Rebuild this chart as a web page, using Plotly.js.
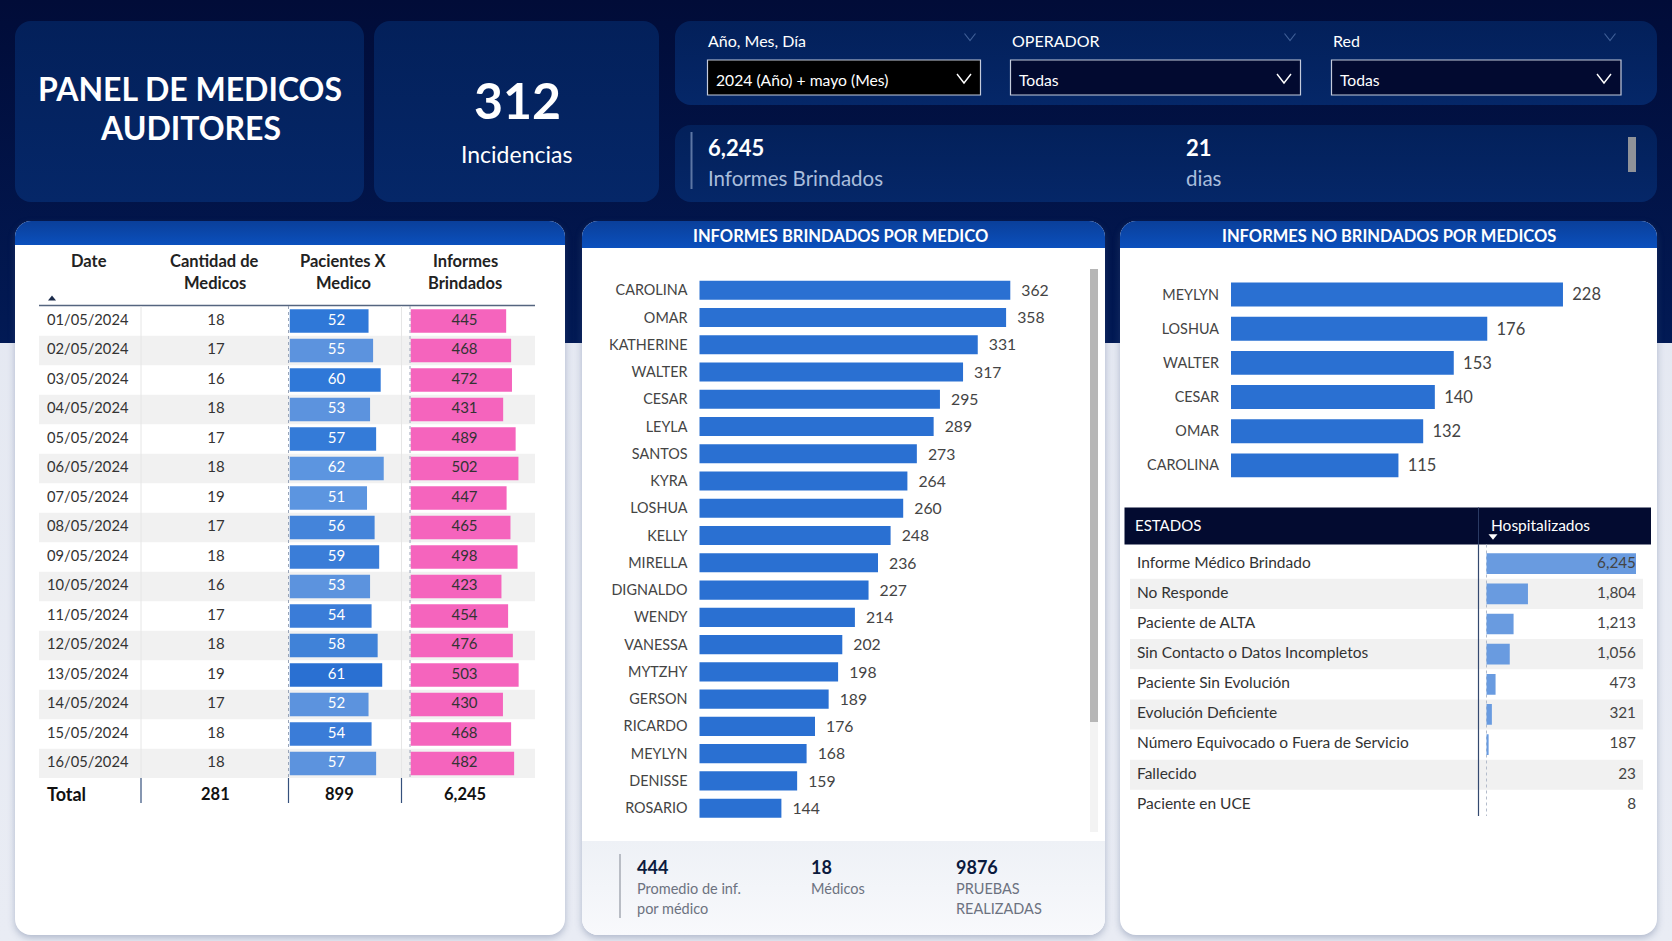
<!DOCTYPE html>
<html><head><meta charset="utf-8">
<script src="https://cdn.plot.ly/plotly-3.0.1.min.js"></script>
<style>
html,body{margin:0;padding:0;width:1672px;height:941px;overflow:hidden;font-family:Lato,sans-serif}
#bg{position:absolute;left:0;top:0;width:1672px;height:941px;background:linear-gradient(#e3e7f1,#e9ecf4);}
#top{position:absolute;left:0;top:0;width:1672px;height:343px;background:linear-gradient(#010c38 0%,#021a55 100%);}
.p{position:absolute;border-radius:16px;background:linear-gradient(#03205a,#052768);}
.c{position:absolute;border-radius:16px;background:#fff;box-shadow:0 3px 7px rgba(70,90,130,.35);overflow:hidden}
.h{position:absolute;left:0;top:0;width:100%;background:linear-gradient(#0a3f9a,#0b50bd);}
.f{position:absolute;left:0;width:100%;background:linear-gradient(#eef1f6,#f8f9fc);}
#chart{position:absolute;left:0;top:0;width:1672px;height:941px}
</style></head>
<body>
<div id="bg"></div><div id="top"></div>
<div class="p" style="left:15px;top:21px;width:349px;height:181px"></div>
<div class="p" style="left:374px;top:21px;width:285px;height:181px"></div>
<div class="p" style="left:675px;top:21px;width:982px;height:84px"></div>
<div class="p" style="left:675px;top:125px;width:982px;height:77px"></div>
<div class="c" style="left:15px;top:221px;width:550px;height:714px"><div class="h" style="height:24px"></div></div>
<div class="c" style="left:582px;top:221px;width:523px;height:714px"><div class="h" style="height:27px"></div><div class="f" style="top:620px;height:94px"></div></div>
<div class="c" style="left:1120px;top:221px;width:537px;height:714px"><div class="h" style="height:27px"></div></div>
<div id="chart"></div>
<script>
// ---------- data ----------
const dates = ["01/05/2024","02/05/2024","03/05/2024","04/05/2024","05/05/2024","06/05/2024","07/05/2024","08/05/2024","09/05/2024","10/05/2024","11/05/2024","12/05/2024","13/05/2024","14/05/2024","15/05/2024","16/05/2024"];
const cantidad = [18,17,16,18,17,18,19,17,18,16,17,18,19,17,18,18];
const pacientes = [52,55,60,53,57,62,51,56,59,53,54,58,61,52,54,57];
const informes = [445,468,472,431,489,502,447,465,498,423,454,476,503,430,468,482];
const totals = ["Total","281","899","6,245"];
const medicos = ["CAROLINA","OMAR","KATHERINE","WALTER","CESAR","LEYLA","SANTOS","KYRA","LOSHUA","KELLY","MIRELLA","DIGNALDO","WENDY","VANESSA","MYTZHY","GERSON","RICARDO","MEYLYN","DENISSE","ROSARIO"];
const brindados = [362,358,331,317,295,289,273,264,260,248,236,227,214,202,198,189,176,168,159,144];
const medicosNo = ["MEYLYN","LOSHUA","WALTER","CESAR","OMAR","CAROLINA"];
const noBrindados = [228,176,153,140,132,115];
const estados = ["Informe Médico Brindado","No Responde","Paciente de ALTA","Sin Contacto o Datos Incompletos","Paciente Sin Evolución","Evolución Deficiente","Número Equivocado o Fuera de Servicio","Fallecido","Paciente en UCE"];
const hospitalizados = [6245,1804,1213,1056,473,321,187,23,8];
const pacColors = ["#2f78d8","#5c93de","#2f78d8","#5c93de","#347bd8","#5c95e0","#5c95e0","#4484da","#3a7dd8","#5c93de","#3a7cd8","#4082d8","#2a70d2","#5c93de","#3a7cd8","#5c93de"];

// ---------- helpers ----------
const W=1672,H=941, FONT="Lato, sans-serif";
const fx=p=>p/W, fy=p=>1-p/H;
const dx=(a,b)=>[fx(a),fx(b)], dy=(t,b)=>[fy(b),fy(t)];
const annotations=[], shapes=[];
function T(text,x,y,size,color,o={}){annotations.push({text:o.bold?`<b>${text}</b>`:text,x:fx(x),y:fy(y),xref:'paper',yref:'paper',showarrow:false,xanchor:o.a||'left',yanchor:'middle',borderpad:0,font:{family:FONT,size,color}});}
const hide={visible:false,fixedrange:true};
function R(x0,y0,x1,y1,fill,extra={}){shapes.push(Object.assign({type:'rect',xref:'paper',yref:'paper',x0:fx(x0),x1:fx(x1),y0:fy(y0),y1:fy(y1),fillcolor:fill,line:{width:0},layer:'below'},extra));}
function L(x0,y0,x1,y1,color,w,dash){shapes.push({type:'line',xref:'paper',yref:'paper',x0:fx(x0),x1:fx(x1),y0:fy(y0),y1:fy(y1),line:{color,width:w,dash:dash||'solid'},layer:'below'});}
function chev(cx,cy,hw,hh,color,w){shapes.push({type:'path',xref:'paper',yref:'paper',path:`M${fx(cx-hw)},${fy(cy-hh)} L${fx(cx)},${fy(cy+hh)} L${fx(cx+hw)},${fy(cy-hh)}`,line:{color,width:w},layer:'above'});}
function tri(cx,cy,hw,hh,up,color){const a=up?cy+hh:cy-hh,b=up?cy-hh:cy+hh;shapes.push({type:'path',xref:'paper',yref:'paper',path:`M${fx(cx-hw)},${fy(a)} L${fx(cx+hw)},${fy(a)} L${fx(cx)},${fy(b)} Z`,fillcolor:color,line:{width:0},layer:'above'});}

// row stripes first so every rule is drawn on top of them
dates.forEach((d,i)=>{if(i%2)shapes.push({type:'rect',xref:'paper',yref:'y',x0:fx(39),x1:fx(535),y0:i-.5,y1:i+.5,fillcolor:'#f1f1f1',line:{width:0},layer:'below'});});
estados.forEach((d,i)=>{if(i%2)shapes.push({type:'rect',xref:'paper',yref:'y6',x0:fx(1130),x1:fx(1643),y0:i-.5,y1:i+.5,fillcolor:'#f1f1f1',line:{width:0},layer:'below'});});

// ---------- static texts ----------
T("PANEL DE MEDICOS",190,88,32,"#fff",{a:'center',bold:true});
T("AUDITORES",190,127.5,32,"#fff",{a:'center',bold:true});
T("312",517,100,50,"#fff",{a:'center',bold:true});
T("Incidencias",516,153.5,23,"#fff",{a:'center'});
T("Año, Mes, Día",707,40,16,"#fff");T("OPERADOR",1011,40,16,"#fff");T("Red",1332,40,16,"#fff");
[[707.5,980.5,"#000000","2024 (Año) + mayo (Mes)",964,970],[1010.5,1300.5,"#020a30","Todas",1284,1290],[1331.5,1621,"#020a30","Todas",1604,1610]].forEach(b=>{
  R(b[0],60,b[1],95,b[2],{line:{color:"#c4cbdc",width:1.2}});
  T(b[3],b[0]+7,79.5,15.7,"#fff");
  chev(b[4],78.5,7,4.5,"#fff",1.4);
  chev(b[5],37,5.5,3.5,"#3f5f97",1.2);
});
R(690.5,132,692.5,189,"#5d76a4");
T("6,245",707,148,22,"#fff",{bold:true});T("Informes Brindados",707,178.5,20.5,"#a9bddc");
T("21",1185,148,22,"#fff",{bold:true});T("dias",1185,178.5,20.5,"#a9bddc");
R(1628,137,1636,172,"#8f9299");
T("INFORMES BRINDADOS POR MEDICO",840.5,236,16.5,"#fff",{a:'center',bold:true});
T("INFORMES NO BRINDADOS POR MEDICOS",1389,236,16.5,"#fff",{a:'center',bold:true});

// table 1 headers
[["Date",null,88.5],["Cantidad de","Medicos",214.5],["Pacientes X","Medico",343],["Informes","Brindados",465.5]].forEach(h=>{
  T(h[0],h[2],260.5,16.5,"#222",{a:'center',bold:true}); if(h[1])T(h[1],h[2],282.5,16.5,"#222",{a:'center',bold:true});
});
tri(52,298,4,2.5,true,"#1a2a4a");
L(39,305.5,535,305.5,"#55657f",1.5);
[141,288.5,401.5].forEach(x=>{L(x,778,x,803,"#35507c",1.2);});
L(141,306,141,778,"#e6e6e6",1);L(288.5,306,288.5,778,"#9aa5b8",1,'dot');L(401.5,306,401.5,778,"#e6e6e6",1);L(410,306,410,778,"#9aa5b8",1,'dot');
// footer of chart 2
R(619,854,621,918,"#b9bdc5");
T("444",636,867,18,"#0b1a3d",{bold:true});T("Promedio de inf.",636,888.5,14.5,"#6c7280");T("por médico",636,908,14.5,"#6c7280");
T("18",810,867,18,"#0b1a3d",{bold:true});T("Médicos",810,888.5,14.5,"#6c7280");
T("9876",955,867,18,"#0b1a3d",{bold:true});T("PRUEBAS",955,888.5,14.5,"#6c7280");T("REALIZADAS",955,908,14.5,"#6c7280");
R(1090,269,1098,832,"#f3f3f3");R(1090,269,1098,722,"#b6b6b6");
// states table
R(1124.5,507.5,1651,544.5,"#030b30");
L(1478.5,507.5,1478.5,544.5,"#2a3a63",1);
T("ESTADOS",1134,525,15,"#fff");T("Hospitalizados",1489.5,525,15.5,"#fff");
tri(1493,537,4.5,2.8,false,"#fff");
L(1478.5,544.5,1478.5,816,"#34496f",1.2);L(1486.5,544.5,1486.5,816,"#b4bccb",1,'dot');

// ---------- traces ----------
const col=(n,x)=>Array(n).fill(x);
const textTrace=(xs,ys,text,size,color,pos,ya)=>({type:'scatter',mode:'text',x:xs,y:ys,text,textposition:pos,textfont:{family:FONT,size,color},xaxis:'x7',yaxis:ya,hoverinfo:'skip',showlegend:false,cliponaxis:false});
const n=dates.length, m=estados.length;
const traces=[
 {type:'bar',orientation:'h',y:dates,x:pacientes,xaxis:'x2',yaxis:'y',width:.8,marker:{color:pacColors},hoverinfo:'skip'},
 {type:'bar',orientation:'h',y:dates,x:informes,xaxis:'x3',yaxis:'y',width:.8,marker:{color:'#f564bd'},hoverinfo:'skip'},
 textTrace(col(n,47),dates,dates,14.7,'#333','middle right','y'),
 textTrace(col(n,216),dates,cantidad.map(String),15,'#333','middle center','y'),
 textTrace(col(n,336.5),dates,pacientes.map(String),15,'#fff','middle center','y'),
 textTrace(col(n,464.5),dates,informes.map(String),15,'#333','middle center','y'),
 {type:'bar',orientation:'h',y:medicos,x:brindados,xaxis:'x4',yaxis:'y4',width:.7,marker:{color:'#2a70d2'},text:brindados.map(v=>'\u00A0\u00A0'+v),textposition:'outside',cliponaxis:false,textfont:{family:FONT,size:16.5,color:'#444'},hoverinfo:'skip'},
 {type:'bar',orientation:'h',y:medicosNo,x:noBrindados,xaxis:'x5',yaxis:'y5',width:.7,marker:{color:'#2a70d2'},text:noBrindados.map(v=>'\u00A0\u2009'+v),textposition:'outside',cliponaxis:false,textfont:{family:FONT,size:16.5,color:'#444'},hoverinfo:'skip'},
 {type:'bar',orientation:'h',y:estados,x:hospitalizados,xaxis:'x6',yaxis:'y6',width:.686,marker:{color:'#699be0'},hoverinfo:'skip'},
 textTrace(col(m,1137),estados,estados,15.5,'#333','middle right','y6'),
 textTrace(col(m,1636),estados,hospitalizados.map(v=>v.toLocaleString('en-US')),15.3,'#444','middle left','y6'),
];
// total row
T(totals[0],46,794,18,"#111",{bold:true});T(totals[1],215.5,794,16.5,"#111",{a:'center',bold:true});T(totals[2],339.5,794,16.5,"#111",{a:'center',bold:true});T(totals[3],465.5,794,16.5,"#111",{a:'center',bold:true});

const cat=(arr,dom,anchor,extra={})=>Object.assign({type:'category',categoryorder:'array',categoryarray:arr,range:[arr.length-.5,-.5],domain:dom,anchor,fixedrange:true,showgrid:false,zeroline:false,showline:false,ticks:''},extra);
const tickY={showticklabels:true,ticklabelstandoff:11,tickfont:{family:FONT,size:14.4,color:'#444'}};
const layout={
 width:W,height:H,margin:{l:0,r:0,t:0,b:0},paper_bgcolor:'rgba(0,0,0,0)',plot_bgcolor:'rgba(0,0,0,0)',showlegend:false,font:{family:FONT},
 barmode:'overlay',
 xaxis:Object.assign({domain:[0,1],range:[0,W],anchor:'y'},hide),
 xaxis7:Object.assign({domain:[0,1],range:[0,W],anchor:'y'},hide),
 yaxis:cat(dates,dy(306.2,778.2),'x',{visible:false}),
 xaxis2:Object.assign({domain:dx(289.5,400),range:[0,110.5/1.52],anchor:'y'},hide),
 xaxis3:Object.assign({domain:dx(410.5,535),range:[0,124.5/.215],anchor:'y'},hide),
 xaxis4:Object.assign({domain:dx(699.5,1088),range:[66,66+388.5/1.05],anchor:'y4'},hide),
 yaxis4:cat(medicos,dy(276.6,821.8),'x4',tickY),
 xaxis5:Object.assign({domain:dx(1231,1640),range:[0,409/1.456],anchor:'y5'},hide),
 yaxis5:cat(medicosNo,dy(277.4,482.5),'x5',tickY),
 xaxis6:Object.assign({domain:dx(1486.5,1636),range:[100,6245],anchor:'y6'},hide),
 yaxis6:cat(estados,dy(548.6,820),'x6',{visible:false}),
 annotations,shapes
};
Plotly.newPlot('chart',traces,layout,{displayModeBar:false,staticPlot:true});
</script>
</body></html>
